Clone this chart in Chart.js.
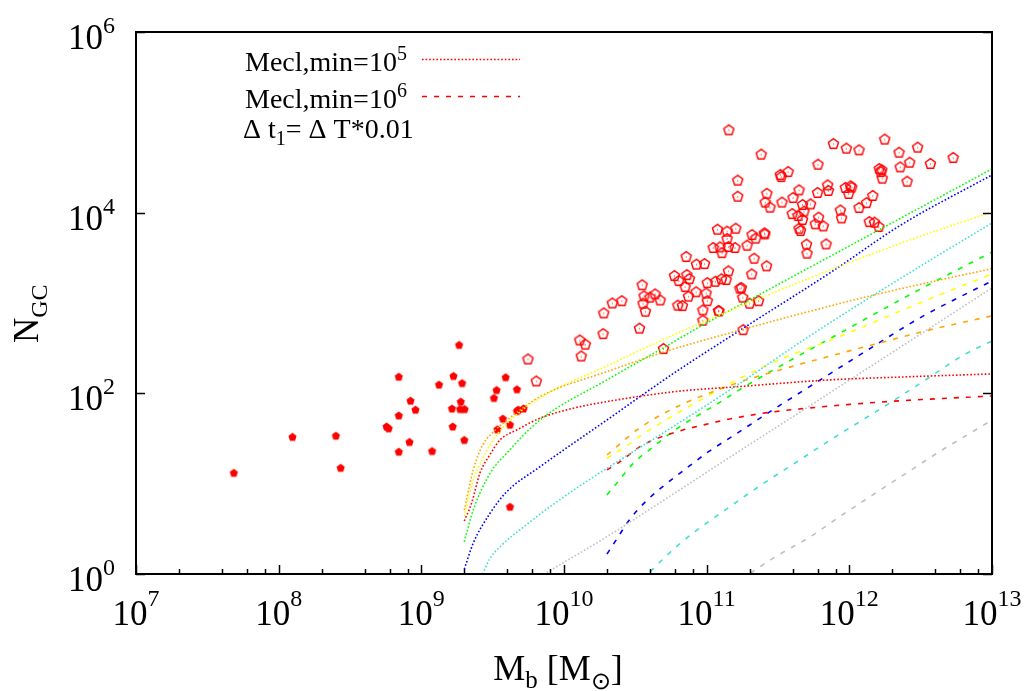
<!DOCTYPE html>
<html>
<head>
<meta charset="utf-8">
<title>N_GC vs M_b</title>
<script src="https://cdn.jsdelivr.net/npm/chart.js@4.4.0/dist/chart.umd.min.js"></script>
<style>
  html, body { margin: 0; padding: 0; background: #fff; }
  #wrap { width: 1033px; height: 691px; }
</style>
</head>
<body>
<div id="wrap"><canvas id="ngcChart" width="1033" height="691"></canvas></div>
<script>
// tick exponents
var xTickExp = [7, 8, 9, 10, 11, 12, 13];
var yTickExp = [0, 2, 4, 6];
var xMinorMult = [2, 4, 6, 8];

// dwarf galaxies (filled pentagons)
var dwarfs = [
    [4.85e7, 13.2], [1.25e8, 33], [2.52e8, 34], [2.72e8, 15], [5.7e8, 43], [5.9e8, 41],
    [6.95e8, 153], [6.95e8, 57], [6.95e8, 22.6], [8.4e8, 83], [9.1e8, 66], [8.26e8, 29],
    [1.19e9, 23], [1.33e9, 125], [1.68e9, 156], [1.84e9, 344], [1.93e9, 130], [1.89e9, 81],
    [1.64e9, 68], [1.87e9, 67], [2.01e9, 67], [1.66e9, 43], [2.0e9, 30.5], [3.23e9, 89],
    [3.37e9, 109], [3.9e9, 151], [4.68e9, 111], [4.68e9, 64], [4.78e9, 66], [5.21e9, 68],
    [3.73e9, 52.5], [3.41e9, 40], [4.18e9, 45], [4.18e9, 5.56]
];

// giant galaxies (open pentagons)
var giants = [
    [1.43e11, 8.26e4], [1.65e11, 2.29e4], [1.65e11, 1.52e4], [1.19e11, 6.56e3], [1.39e11, 6.24e3],
    [1.60e11, 6.73e3], [1.39e11, 5.17e3], [1.11e11, 4.11e3], [1.24e11, 4.18e3], [1.28e11, 3.61e3],
    [1.42e11, 4.21e3], [1.58e11, 4.11e3], [7.18e10, 3.27e3], [8.48e10, 2.69e3], [9.66e10, 2.73e3],
    [1.42e11, 2.27e3], [5.94e10, 2.01e3], [7.26e10, 2.06e3], [6.38e10, 1.77e3], [7.57e10, 1.86e3],
    [7.06e10, 1.52e3], [1.01e11, 1.68e3], [1.15e11, 1.74e3], [1.27e11, 1.85e3], [1.37e11, 1.82e3],
    [1.71e11, 1.46e3], [3.53e10, 1.59e3], [3.64e10, 1.20e3], [4.01e10, 1.16e3], [4.35e10, 1.26e3],
    [4.72e10, 1.08e3], [3.58e10, 995], [3.72e10, 811], [2.18e10, 1.00e3], [2.54e10, 1.06e3],
    [1.90e10, 777], [7.45e10, 1.19e3], [8.43e10, 1.33e3], [9.91e10, 1.29e3], [1.01e11, 1.06e3],
    [6.28e10, 946], [6.76e10, 936], [9.40e10, 839], [9.40e10, 645], [1.21e11, 824],
    [3.38e10, 527], [1.88e10, 458], [1.29e10, 390], [1.41e10, 350], [1.32e10, 259],
    [5.59e9, 240], [6.39e9, 137], [4.98e10, 313],
    [2.41e11, 4.44e4], [7.73e11, 5.82e4], [9.53e11, 5.18e4], [1.17e12, 4.96e4], [1.77e12, 6.52e4],
    [2.23e12, 4.67e4], [3.01e12, 5.31e4], [5.34e12, 4.08e4], [3.70e12, 3.50e4], [2.65e12, 3.62e4],
    [2.27e12, 3.21e4], [6.03e11, 3.44e4], [1.62e12, 3.08e4], [1.69e12, 2.98e4], [1.66e12, 2.85e4],
    [1.70e12, 2.41e4], [2.54e12, 2.23e4], [3.72e11, 2.85e4], [3.28e11, 2.64e4], [3.33e11, 2.51e4],
    [2.64e11, 1.64e4], [4.44e11, 1.79e4], [5.99e11, 1.67e4], [7.05e11, 2.03e4], [7.13e11, 1.76e4],
    [9.38e11, 1.90e4], [1.02e12, 1.98e4], [1.04e12, 1.92e4], [9.89e11, 1.63e4], [1.46e12, 1.55e4],
    [1.32e12, 1.29e4], [1.17e12, 1.14e4], [3.37e11, 1.31e4], [4.03e11, 1.47e4], [2.57e11, 1.31e4],
    [2.78e11, 1.15e4], [4.70e11, 1.23e4], [5.35e11, 1.25e4], [4.81e11, 1.04e4], [3.98e11, 9.77e3],
    [4.37e11, 9.29e3], [4.70e11, 8.39e3], [8.65e11, 1.07e4], [8.83e11, 8.75e3], [6.09e11, 8.92e3],
    [5.77e11, 7.52e3], [6.57e11, 7.14e3], [1.38e12, 7.97e3], [1.50e12, 7.85e3], [1.61e12, 7.02e3],
    [4.44e11, 6.73e3], [4.55e11, 6.34e3], [5.01e11, 4.48e3], [6.87e11, 4.51e3], [5.05e11, 3.56e3],
    [1.92e11, 4.36e3], [2.08e11, 5.72e3], [2.21e11, 5.22e3], [2.54e11, 5.97e3], [2.56e11, 5.82e3],
    [2.15e11, 3.13e3], [2.63e11, 2.58e3], [2.07e11, 2.10e3], [1.75e11, 1.48e3], [1.79e11, 1.16e3],
    [2.31e11, 1.06e3], [2.00e11, 995], [1.22e11, 818], [1.80e11, 507]
];

// model curves, Mecl,min = 1e5 (dotted)
var dotRed = [[2e9, 3.86], [2.25e9, 6.07], [2.57e9, 13], [3.03e9, 21], [3.56e9, 30.5], [4.66e9, 39.3], [6.79e9, 53], [1.16e10, 68.4], [2e10, 81], [5.85e10, 104], [1.72e11, 119], [7.36e11, 141], [2.16e12, 151], [1e13, 164]];
var dotOrange = [[2e9, 5.1], [2.31e9, 14.2], [2.7e9, 27], [3.12e9, 36], [3.96e9, 50], [6.8e9, 92], [2e10, 174], [5.85e10, 309], [1.72e11, 501], [4.53e11, 759], [1.33e12, 1175], [3.91e12, 1738], [1e13, 2399]];
var dotYellow = [[2e9, 4.4], [2.31e9, 11], [2.7e9, 19], [3.03e9, 27], [3.96e9, 46], [6.79e9, 89], [2e10, 201], [5.85e10, 443], [2.65e11, 1216], [7.76e11, 2399], [2.28e12, 4571], [1e13, 1.02e4]];
var dotGreen = [[2e9, 2.28], [2.31e9, 5.1], [3.03e9, 13.0], [3.96e9, 21.7], [6.79e9, 50.7], [2e10, 141], [4.95e10, 318], [9.0e10, 548], [2.65e11, 1377], [7.76e11, 3444], [2.28e12, 8650], [1e13, 3.05e4]];
var dotBlue = [[2e9, 1.13], [2.31e9, 2.19], [3.03e9, 4.7], [3.96e9, 8.1], [6.79e9, 15.4], [2e10, 50.7], [5.85e10, 166], [1.72e11, 501], [7.76e11, 2291], [2.28e12, 7244], [1e13, 2.62e4]];
var dotCyan = [[2.69e9, 1.0], [3.0e9, 1.45], [3.56e9, 2.0], [5.18e9, 3.3], [8.9e9, 6.3], [2e10, 14.8], [5.85e10, 43], [1.72e11, 130], [4.78e11, 390], [1.33e12, 1100], [3.91e12, 3150], [1e13, 7700]];
var dotGrey = [[7.57e9, 1.04], [2e10, 2.59], [5.85e10, 7.7], [1.72e11, 23.3], [4.3e11, 59], [1.26e12, 177], [3.7e12, 532], [1e13, 1470]];

// model curves, Mecl,min = 1e6 (dashed)
var dashRed = [[2e10, 14.2], [2.47e10, 17.5], [3.41e10, 25.7], [4.24e10, 30.5], [6.18e10, 37.6], [9.5e10, 44.7], [1.42e11, 51.6], [2.65e11, 61.1], [5.05e11, 68.4], [9.64e11, 75], [1.84e12, 81], [3.51e12, 86], [1e13, 93.6]];
var dashOrange = [[2e10, 20.8], [3.32e10, 40.3], [5.7e10, 66.7], [1.54e11, 126], [3.44e11, 186], [8.2e11, 271], [1.84e12, 380], [3.5e12, 495], [1e13, 720]];
var dashYellow = [[2e10, 19.1], [2.75e10, 26.3], [3.6e10, 35.5], [6.52e10, 63], [9.5e10, 88], [1.72e11, 147], [3.66e11, 255], [7.98e11, 408], [3.24e12, 1028], [1e13, 2100]];
var dashGreen = [[2e10, 7.5], [2.34e10, 10.1], [3.06e10, 16.8], [4.24e10, 25.7], [6.0e10, 39.3], [8.53e10, 56], [1.21e11, 78], [1.77e11, 114], [3.66e11, 221], [7.76e11, 425], [2.83e12, 1304], [1e13, 3680]];
var dashBlue = [[2e10, 1.66], [2.28e10, 2.28], [2.87e10, 3.96], [3.8e10, 6.5], [5.26e10, 10.1], [7.45e10, 15.4], [1.03e11, 22.6], [1.5e11, 33.1], [3.03e11, 68.4], [6.26e11, 141], [1.29e12, 290], [3.24e12, 707], [1e13, 1757]];
var dashCyan = [[4.02e10, 1.06], [4.6e10, 1.31], [6.34e10, 2.1], [8.77e10, 3.15], [1.25e11, 4.7], [2.51e11, 10.1], [4.3e11, 17.5], [7.36e11, 30.5], [1.26e12, 51.6], [2.16e12, 88], [3.7e12, 153], [6.34e12, 266], [1e13, 380]];
var dashGrey = [[2.02e11, 1.02], [3.03e11, 1.55], [5.33e11, 2.59], [8.9e11, 4.5], [1.52e12, 7.83], [2.61e12, 13.6], [4.47e12, 23.6], [7.87e12, 40.3], [1e13, 50.7]];

var SERIF = '"Liberation Serif", "Times New Roman", serif';

// pentagon point markers
function pentagon(size, filled) {
    var c = document.createElement('canvas');
    c.width = size; c.height = size;
    var g = c.getContext('2d');
    var r = size / 2 - 1.2;
    g.beginPath();
    for (var i = 0; i < 5; i++) {
        var a = -Math.PI / 2 + i * 2 * Math.PI / 5;
        var px = size / 2 + r * Math.cos(a), py = size / 2 + 0.4 + r * Math.sin(a);
        if (i === 0) g.moveTo(px, py); else g.lineTo(px, py);
    }
    g.closePath();
    if (filled) {
        g.fillStyle = '#ff0000';
        g.fill();
    } else {
        g.strokeStyle = '#ff0000';
        g.lineWidth = 1.4;
        g.stroke();
        g.fillStyle = '#ff0000';
        g.fillRect(size / 2 - 0.5, size / 2, 1, 1);
    }
    return c;
}

function toXY(arr) {
    return arr.map(function (p) { return { x: p[0], y: p[1] }; });
}

function curve(arr, color, dashed) {
    return {
        type: 'scatter',
        data: toXY(arr),
        showLine: true,
        borderColor: color,
        borderWidth: 1.6,
        borderDash: dashed ? [5, 7] : [1.6, 2],
        pointRadius: 0,
        cubicInterpolationMode: 'monotone',
        fill: false
    };
}

// text with super/subscripts: parts = [[text, size, dy], ...]
function drawRich(ctx, parts, x, y, align) {
    var total = 0;
    parts.forEach(function (p) {
        ctx.font = p[1] + 'px ' + SERIF;
        total += ctx.measureText(p[0]).width;
    });
    var cx = x;
    if (align === 'center') cx = x - total / 2;
    if (align === 'right') cx = x - total;
    ctx.textAlign = 'left';
    ctx.textBaseline = 'alphabetic';
    parts.forEach(function (p) {
        ctx.font = p[1] + 'px ' + SERIF;
        ctx.fillText(p[0], cx, y + p[2]);
        cx += ctx.measureText(p[0]).width;
    });
}

var frame = {
    id: 'frame',
    afterDraw: function (chart) {
        var ctx = chart.ctx, a = chart.chartArea;
        var xs = chart.scales.x, ys = chart.scales.y;
        ctx.save();
        ctx.strokeStyle = '#000';
        ctx.fillStyle = '#000';
        ctx.lineWidth = 1.5;

        // x ticks
        xTickExp.forEach(function (e) {
            var px = Math.round(xs.getPixelForValue(Math.pow(10, e))) + 0.5;
            ctx.beginPath(); ctx.moveTo(px, a.bottom); ctx.lineTo(px, a.bottom - 9); ctx.stroke();
            if (e < 13) {
                xMinorMult.forEach(function (m) {
                    var mx = Math.round(xs.getPixelForValue(m * Math.pow(10, e))) + 0.5;
                    ctx.beginPath(); ctx.moveTo(mx, a.bottom); ctx.lineTo(mx, a.bottom - 5); ctx.stroke();
                });
            }
            drawRich(ctx, [['10', 35, 0], [String(e), 24, -19]], xs.getPixelForValue(Math.pow(10, e)), 625, 'center');
        });

        // y ticks, both sides
        yTickExp.forEach(function (e) {
            var py = Math.round(ys.getPixelForValue(Math.pow(10, e))) + 0.5;
            ctx.beginPath(); ctx.moveTo(a.left, py); ctx.lineTo(a.left + 9, py); ctx.stroke();
            ctx.beginPath(); ctx.moveTo(a.right, py); ctx.lineTo(a.right - 9, py); ctx.stroke();
            drawRich(ctx, [['10', 35, 0], [String(e), 24, -16]], 115, py + 16, 'right');
        });

        // border
        ctx.lineWidth = 2;
        ctx.strokeRect(a.left, a.top, a.right - a.left, a.bottom - a.top);

        // axis titles
        drawRich(ctx, [['M', 36, 0], ['b', 25, 8], [' [M', 36, 0], ['\u2299', 24, 9], [']', 36, 0]], 558, 680, 'center');
        ctx.save();
        ctx.translate(38, 343);
        ctx.rotate(-Math.PI / 2);
        drawRich(ctx, [['N', 35, 0], ['GC', 24, 9]], 0, 0, 'left');
        ctx.restore();

        // key
        drawRich(ctx, [['Mecl,min=10', 28, 0], ['5', 20, -11]], 245, 71, 'left');
        drawRich(ctx, [['Mecl,min=10', 28, 0], ['6', 20, -11]], 245, 108, 'left');
        drawRich(ctx, [['\u0394 t', 28, 0], ['1', 20, 7], ['= \u0394 T*0.01', 28, 0]], 243, 138, 'left');
        ctx.strokeStyle = '#ff0000';
        ctx.lineWidth = 1.6;
        ctx.setLineDash([1.6, 2]);
        ctx.beginPath(); ctx.moveTo(422, 59.5); ctx.lineTo(520, 59.5); ctx.stroke();
        ctx.setLineDash([5, 7]);
        ctx.beginPath(); ctx.moveTo(422, 96.5); ctx.lineTo(520, 96.5); ctx.stroke();
        ctx.restore();
    }
};

var ctx = document.getElementById('ngcChart').getContext('2d');
var myChart = new Chart(ctx, {
    type: 'scatter',
    data: {
        datasets: [
            curve(dotRed, '#ff0000', false),
            curve(dotOrange, '#ffa500', false),
            curve(dotYellow, '#ffff00', false),
            curve(dotGreen, '#00ff00', false),
            curve(dotBlue, '#0000ff', false),
            curve(dotCyan, '#40e0d0', false),
            curve(dotGrey, '#c0c0c0', false),
            curve(dashRed, '#ff0000', true),
            curve(dashOrange, '#ffa500', true),
            curve(dashYellow, '#ffff00', true),
            curve(dashGreen, '#00ff00', true),
            curve(dashBlue, '#0000ff', true),
            curve(dashCyan, '#40e0d0', true),
            curve(dashGrey, '#c0c0c0', true),
            {
                data: toXY(dwarfs),
                pointStyle: pentagon(11, true),
                pointRadius: 5,
                showLine: false
            },
            {
                data: toXY(giants),
                pointStyle: pentagon(13, false),
                pointRadius: 6,
                showLine: false
            }
        ]
    },
    options: {
        responsive: false,
        animation: false,
        events: [],
        layout: { padding: { left: 136, right: 41, top: 32, bottom: 117 } },
        plugins: { legend: { display: false }, tooltip: { enabled: false } },
        scales: {
            x: { type: 'logarithmic', min: 1e7, max: 1e13, display: false },
            y: { type: 'logarithmic', min: 1, max: 1e6, display: false }
        }
    },
    plugins: [frame]
});
</script>
</body>
</html>
